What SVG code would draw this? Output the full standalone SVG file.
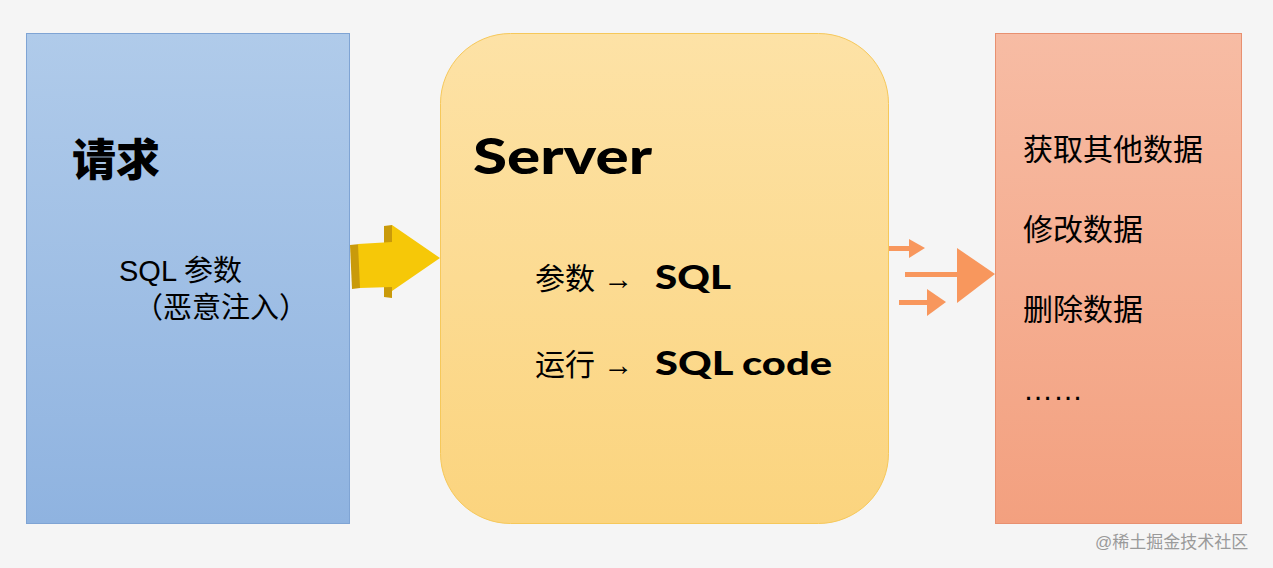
<svg xmlns="http://www.w3.org/2000/svg" width="1273" height="568" viewBox="0 0 1273 568">
<defs>
<linearGradient id="gb" x1="0" y1="0" x2="0" y2="1"><stop offset="0" stop-color="#b0cbea"/><stop offset="1" stop-color="#8fb3e0"/></linearGradient>
<linearGradient id="gy" x1="0" y1="0" x2="0" y2="1"><stop offset="0" stop-color="#fde2a6"/><stop offset="1" stop-color="#fbd47e"/></linearGradient>
<linearGradient id="go" x1="0" y1="0" x2="0" y2="1"><stop offset="0" stop-color="#f7bca4"/><stop offset="1" stop-color="#f3a07f"/></linearGradient>
<style>
.t{font-family:"Liberation Sans","Noto Sans CJK SC",sans-serif;fill:#000}
.b{font-family:"Lato","Liberation Sans","Noto Sans CJK SC",sans-serif;font-weight:900;fill:#000}
.o{fill:#f8975d}
</style>
</defs>
<rect width="1273" height="568" fill="#f5f5f5"/>
<g id="request">
<rect x="26.5" y="33.5" width="323" height="490" fill="url(#gb)" stroke="#7fa4d4"/>
<text class="b" x="72" y="176" font-size="44">请求</text>
<text class="t" x="119" y="281" font-size="29">SQL 参数</text>
<text class="t" x="134" y="318" font-size="29">（恶意注入）</text>
</g>
<g id="server">
<rect x="440.5" y="33.5" width="448" height="490" rx="70" fill="url(#gy)" stroke="#f6c85a"/>
<text class="b" x="473" y="174" font-size="50" textLength="179" lengthAdjust="spacingAndGlyphs">Server</text>
<text class="t" x="535" y="289" font-size="30">参数 →</text>
<text class="b" x="655" y="289" font-size="32" textLength="76" lengthAdjust="spacingAndGlyphs">SQL</text>
<text class="t" x="535" y="375" font-size="30">运行 →</text>
<text class="b" x="655" y="375" font-size="32" textLength="177" lengthAdjust="spacingAndGlyphs">SQL code</text>
</g>
<g id="database">
<rect x="995.5" y="33.5" width="246" height="490" fill="url(#go)" stroke="#e89070"/>
<text class="t" x="1023" y="160" font-size="30">获取其他数据</text>
<text class="t" x="1023" y="240" font-size="30">修改数据</text>
<text class="t" x="1023" y="320" font-size="30">删除数据</text>
<text class="t" x="1023" y="400" font-size="30">……</text>
</g>
<g id="connectors">
<polygon points="350,245 360,244 360,288 352,289" fill="#c99a0a"/>
<polygon points="384,226 392,225 392,298 384,297" fill="#c99a0a"/>
<polygon points="358,244 392,242 392,225 440,258 392,291 392,287 360,288" fill="#f6c808"/>
<rect x="889" y="246" width="22" height="5" class="o"/>
<polygon points="909,239 925,248 909,258" class="o"/>
<rect x="905" y="272" width="54" height="5" class="o"/>
<polygon points="957,248 995,274 957,303" class="o"/>
<rect x="899" y="300" width="30" height="5" class="o"/>
<polygon points="927,289 946,302 927,316" class="o"/>
</g>
<text class="t" x="1095" y="548" font-size="17" style="fill:#9a9a9a">@稀土掘金技术社区</text>
</svg>
